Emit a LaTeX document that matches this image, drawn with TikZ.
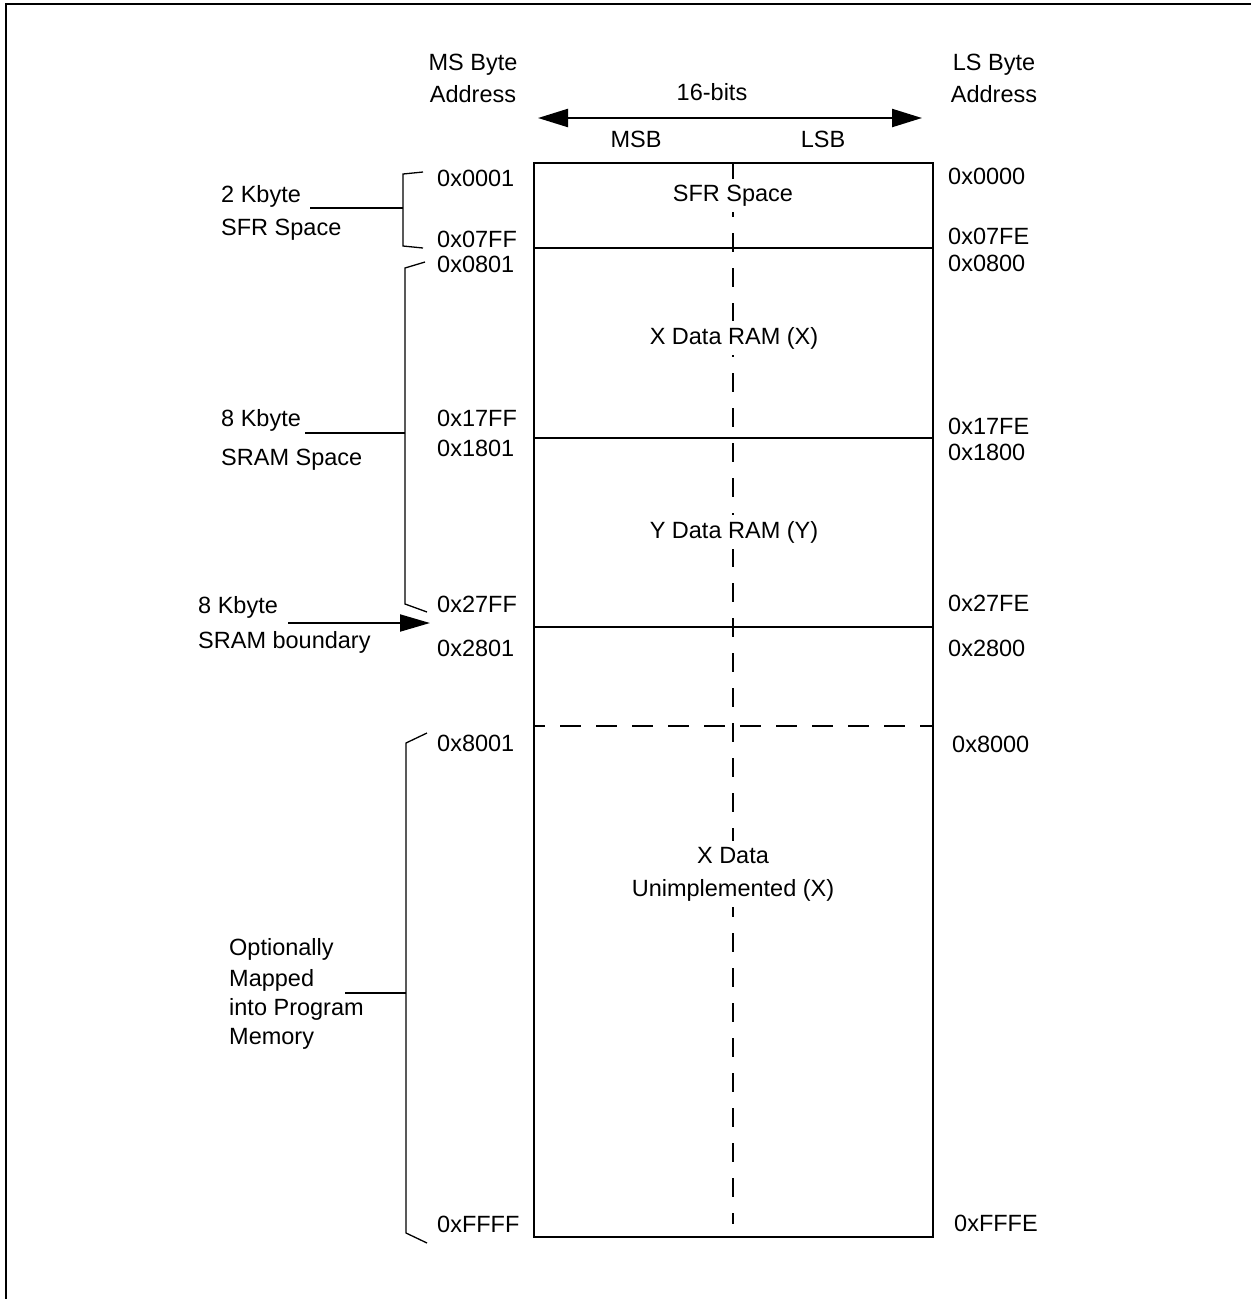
\documentclass[tikz,border=0pt]{standalone}
\usepackage{fontspec}
\setmainfont{Liberation Sans}
\usetikzlibrary{arrows.meta}
\begin{document}
\begin{tikzpicture}[x=1pt,y=-1pt,
  lbl/.style={font=\fontsize{23.5}{31}\selectfont, inner sep=0pt},
  addrL/.style={lbl, anchor=base west},
  addrR/.style={lbl, anchor=base west},
  inbox/.style={lbl, anchor=base, fill=white, inner xsep=2pt, inner ysep=6pt, align=center},
  side/.style={lbl, anchor=base west, align=left},
  frame/.style={line width=2.7pt},
  boxline/.style={line width=2pt},
  brk/.style={line width=1.3pt},
  bigtip/.style={-{Triangle[length=30pt,width=17pt]}},
]
\useasboundingbox (0,0) rectangle (1251,1299);
% frame
\coordinate (f1) at (6,1299);
\coordinate (f2) at (6,4);
\coordinate (f3) at (1251,4);
\draw[frame] (f1) -- (f2) -- (f3);

% memory box
\coordinate (bTL) at (534,163);
\coordinate (bBR) at (933,1237);
\coordinate (cTop) at (733,163);
\coordinate (cBot) at (733,1224);
\draw[boxline, dash pattern=on 19pt off 16pt] (cTop) -- (cBot);
\coordinate (h1L) at (534,248); \coordinate (h1R) at (933,248);
\coordinate (h2L) at (534,438); \coordinate (h2R) at (933,438);
\coordinate (h3L) at (534,627); \coordinate (h3R) at (933,627);
\coordinate (h4L) at (534,726); \coordinate (h4R) at (933,726);
\draw[boxline] (h1L) -- (h1R);
\draw[boxline] (h2L) -- (h2R);
\draw[boxline] (h3L) -- (h3R);
\draw[boxline, dash pattern=on 21pt off 15pt, dash phase=10pt] (h4L) -- (h4R);

% region labels
\node[inbox] (sfr) at (733,201) {SFR Space};
\node[inbox] (xram) at (734,344) {X Data RAM (X)};
\node[inbox] (yram) at (734,538) {Y Data RAM (Y)};
\node[inbox] (xun) at (733,896) {X Data\\[2pt]Unimplemented (X)};
\draw[boxline] (bTL) rectangle (bBR);

% header
\node[lbl, anchor=base, align=center] (msb) at (473,102) {MS Byte\\[1pt]Address};
\node[lbl, anchor=base, align=center] (lsb) at (994,102) {LS Byte\\[1pt]Address};
\node[lbl, anchor=base] (bits) at (712,100) {16-bits};
\node[lbl, anchor=base] (MSB) at (636,147) {MSB};
\node[lbl, anchor=base] (LSB) at (823,147) {LSB};
\coordinate (arL) at (538,118);
\coordinate (arR) at (922,118);
\draw[line width=2.3pt, {Triangle[length=30pt,width=18pt]}-{Triangle[length=30pt,width=18pt]}] (arL) -- (arR);

% left addresses
\node[addrL] (l1) at (437,186) {0x0001};
\node[addrL] (l2) at (437,247) {0x07FF};
\node[addrL] (l3) at (437,272) {0x0801};
\node[addrL] (l4) at (437,426) {0x17FF};
\node[addrL] (l5) at (437,456) {0x1801};
\node[addrL] (l6) at (437,612) {0x27FF};
\node[addrL] (l7) at (437,656) {0x2801};
\node[addrL] (l8) at (437,751) {0x8001};
\node[addrL] (l9) at (437,1232) {0xFFFF};

% right addresses
\node[addrR] (r1) at (948,184) {0x0000};
\node[addrR] (r2) at (948,244) {0x07FE};
\node[addrR] (r3) at (948,271) {0x0800};
\node[addrR] (r4) at (948,434) {0x17FE};
\node[addrR] (r5) at (948,460) {0x1800};
\node[addrR] (r6) at (948,611) {0x27FE};
\node[addrR] (r7) at (948,656) {0x2800};
\node[addrR] (r8) at (952,752) {0x8000};
\node[addrR] (r9) at (954,1231) {0xFFFE};

% side labels
\node[side] (k2) at (221,235) {2 Kbyte\\[2pt]SFR Space};
\node[side] (k8) at (221,465) {8 Kbyte\\[8pt]SRAM Space};
\node[side] (kb) at (198,648) {8 Kbyte\\[4pt]SRAM boundary};
\node[side] (opt) at (229,1044) {Optionally\\Mapped\\[-2pt]into Program\\[-2pt]Memory};

% bracket 1
\coordinate (b1a) at (423,172);
\coordinate (b1b) at (403,174);
\coordinate (b1c) at (403,246);
\coordinate (b1d) at (423,248);
\coordinate (b1s) at (310,208);
\coordinate (b1m) at (403,208);
\draw[brk] (b1a) -- (b1b) -- (b1c) -- (b1d);
\draw[brk] (b1s) -- (b1m);

% bracket 2
\coordinate (b2a) at (425,262);
\coordinate (b2b) at (405,268);
\coordinate (b2c) at (405,604);
\coordinate (b2d) at (427,612);
\coordinate (b2s) at (305,433);
\coordinate (b2m) at (405,433);
\draw[brk] (b2a) -- (b2b) -- (b2c) -- (b2d);
\draw[brk] (b2s) -- (b2m);

% boundary arrow
\coordinate (ba1) at (288,623);
\coordinate (ba2) at (430,623);
\draw[line width=2pt, bigtip] (ba1) -- (ba2);

% bracket 3
\coordinate (b3a) at (427,733);
\coordinate (b3b) at (406,743);
\coordinate (b3c) at (406,1233);
\coordinate (b3d) at (427,1243);
\coordinate (b3s) at (345,993);
\coordinate (b3m) at (406,993);
\draw[brk] (b3a) -- (b3b) -- (b3c) -- (b3d);
\draw[brk] (b3s) -- (b3m);
\end{tikzpicture}
\end{document}
